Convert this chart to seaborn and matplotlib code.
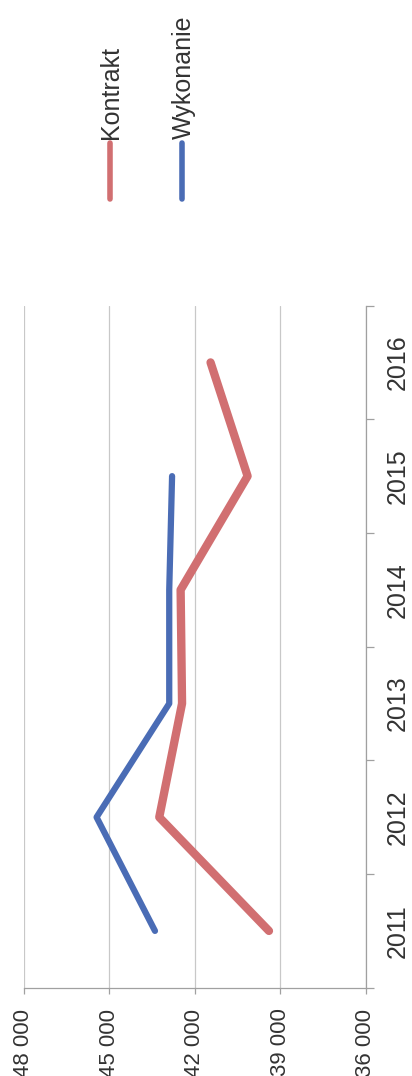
import seaborn as sns
import matplotlib.pyplot as plt
from matplotlib.lines import Line2D
import matplotlib.ticker as mticker

sns.set_theme(style="white")
plt.rcParams['font.family'] = ['Liberation Sans', 'DejaVu Sans']

years = [2011, 2012, 2013, 2014, 2015, 2016]
kontrakt = [39400, 43250, 42450, 42500, 40150, 41450]
wykonanie = [43400, 45450, 42900, 42900, 42800]
series_names = ['Kontrakt', 'Wykonanie']
colors = ['#D16F71', '#4A6CB5']
value_ticks = [36000, 39000, 42000, 45000, 48000]

fig = plt.figure(figsize=(4.12, 10.76), dpi=100)
ax = fig.add_axes([0.058, 0.082, 0.830, 0.634])

# chart is drawn turned on its side: values run right-to-left, years bottom-to-top
sns.lineplot(x=kontrakt, y=years, orient='y', color=colors[0], lw=6, ax=ax)
sns.lineplot(x=wykonanie, y=years[:len(wykonanie)], orient='y', color=colors[1], lw=4.5, ax=ax)

ax.set_xlim(48000, 36000)
ax.set_ylim(2010.5, 2016.5)
ax.set_xticks(value_ticks)
ax.xaxis.set_major_formatter(mticker.FuncFormatter(lambda v, p: f"{int(v):,}".replace(",", " ")))
ax.grid(axis='x', color='#C8C8C8', lw=0.9)
ax.grid(axis='y', visible=False)

ax.yaxis.tick_right()
ax.set_yticks(years)
ax.set_yticks([y + 0.5 for y in [2010] + years], minor=True)
ax.tick_params(axis='y', which='major', length=0, pad=14, labelsize=18, labelrotation=90, colors='#333333')
ax.tick_params(axis='y', which='minor', right=True, length=6, width=0.9, color='#A0A0A0', direction='out')
ax.tick_params(axis='x', which='major', bottom=True, length=4, width=0.9, color='#A0A0A0',
               pad=11, labelsize=16, labelrotation=90, labelcolor='#333333')
for lab in ax.get_yticklabels():
    lab.set_va('center')
    lab.set_ha('left')

for side in ['top', 'left']:
    ax.spines[side].set_visible(False)
for side in ['bottom', 'right']:
    ax.spines[side].set_color('#A0A0A0')
    ax.spines[side].set_linewidth(0.9)
ax.set_xlabel('')
ax.set_ylabel('')

# legend, turned like the chart
leg_x = [0.267, 0.442]
txt_x = [0.270, 0.447]
for name, c, lx, tx in zip(series_names, colors, leg_x, txt_x):
    fig.add_artist(Line2D([lx, lx], [0.815, 0.867], transform=fig.transFigure, color=c, lw=4, solid_capstyle='round'))
    fig.text(tx, 0.871, name, rotation=90, ha='center', va='bottom', fontsize=18, color='#333333')

fig.savefig('out.png', dpi=100, facecolor='white')
